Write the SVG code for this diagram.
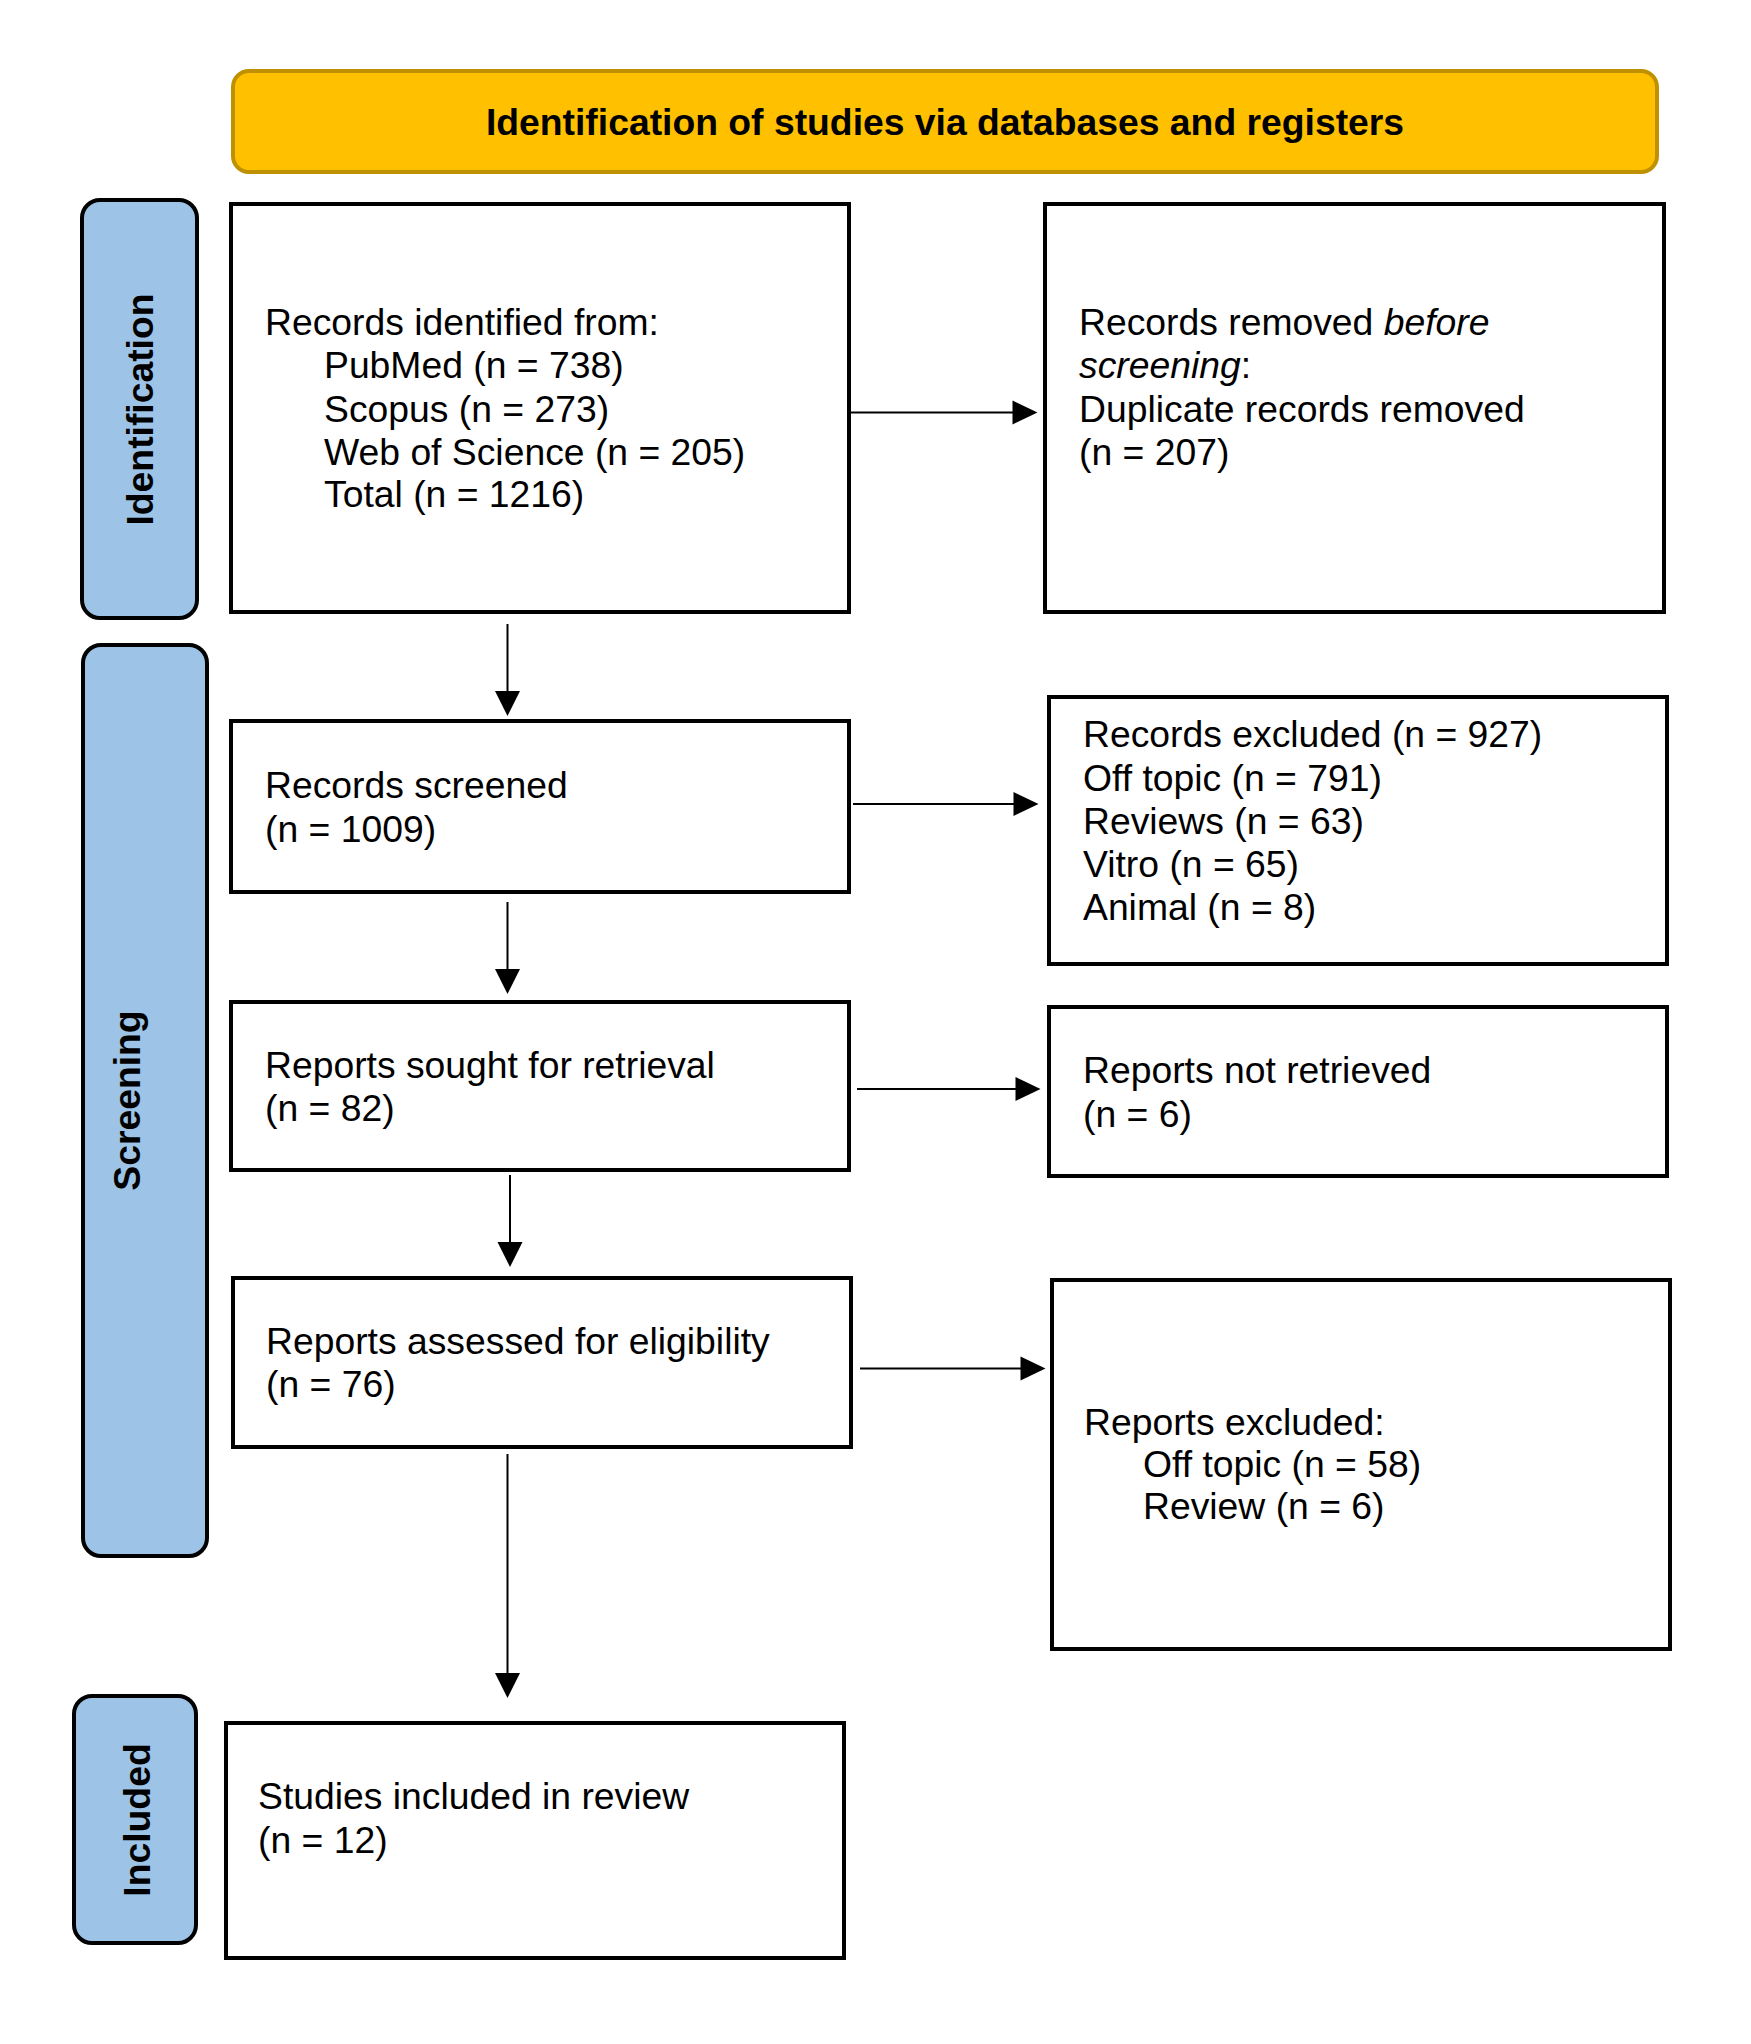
<svg xmlns="http://www.w3.org/2000/svg" width="1751" height="2044" viewBox="0 0 1751 2044">
<style>
.bg{fill:#ffffff}
.box{fill:#ffffff;stroke:#000000;stroke-width:4}
.side{fill:#9DC3E6;stroke:#000000;stroke-width:4}
.head{fill:#FFC000;stroke:#BF9000;stroke-width:4}
.t{font-family:"Liberation Sans",Arial,sans-serif;font-size:37.3px;fill:#000000}
.b{font-family:"Liberation Sans",Arial,sans-serif;font-size:37.3px;font-weight:bold;fill:#000000}
.ln{stroke:#000000;stroke-width:2;fill:none}
.ah{fill:#000000}
</style>
<rect class="bg" x="0" y="0" width="1751" height="2044"/>

<g id="header">
<rect class="head" x="233" y="71" width="1424" height="101" rx="16"/>
<text class="b" x="945" y="135" text-anchor="middle">Identification of studies via databases and registers</text>
</g>

<g id="side-identification">
<rect class="side" x="82" y="200" width="115" height="418" rx="18"/>
<text class="b" transform="translate(153,409.5) rotate(-90)" text-anchor="middle">Identification</text>
</g>
<g id="side-screening">
<rect class="side" x="83" y="645" width="124" height="911" rx="18"/>
<text class="b" transform="translate(140,1100.5) rotate(-90)" text-anchor="middle">Screening</text>
</g>
<g id="side-included">
<rect class="side" x="74" y="1696" width="122" height="247" rx="18"/>
<text class="b" transform="translate(150,1820) rotate(-90)" text-anchor="middle">Included</text>
</g>

<g id="records-identified">
<rect class="box" x="231" y="204" width="618" height="408"/>
<text class="t" x="265" y="335">Records identified from:</text>
<text class="t" x="324" y="378">PubMed (n = 738)</text>
<text class="t" x="324" y="421.5">Scopus (n = 273)</text>
<text class="t" x="324" y="464.5">Web of Science (n = 205)</text>
<text class="t" x="324" y="507">Total (n = 1216)</text>
</g>

<g id="records-removed">
<rect class="box" x="1045" y="204" width="619" height="408"/>
<text class="t" x="1079" y="335">Records removed <tspan font-style="italic">before</tspan></text>
<text class="t" x="1079" y="378"><tspan font-style="italic">screening</tspan>:</text>
<text class="t" x="1079" y="421.5">Duplicate records removed</text>
<text class="t" x="1079" y="464.5">(n = 207)</text>
</g>

<g id="records-screened">
<rect class="box" x="231" y="721" width="618" height="171"/>
<text class="t" x="265" y="798">Records screened</text>
<text class="t" x="265" y="842">(n = 1009)</text>
</g>

<g id="records-excluded">
<rect class="box" x="1049" y="697" width="618" height="267"/>
<text class="t" x="1083" y="747">Records excluded (n = 927)</text>
<text class="t" x="1083" y="790.5">Off topic (n = 791)</text>
<text class="t" x="1083" y="833.5">Reviews (n = 63)</text>
<text class="t" x="1083" y="877">Vitro (n = 65)</text>
<text class="t" x="1083" y="920">Animal (n = 8)</text>
</g>

<g id="reports-sought">
<rect class="box" x="231" y="1002" width="618" height="168"/>
<text class="t" x="265" y="1078">Reports sought for retrieval</text>
<text class="t" x="265" y="1121">(n = 82)</text>
</g>

<g id="reports-not-retrieved">
<rect class="box" x="1049" y="1007" width="618" height="169"/>
<text class="t" x="1083" y="1083">Reports not retrieved</text>
<text class="t" x="1083" y="1127">(n = 6)</text>
</g>

<g id="reports-assessed">
<rect class="box" x="233" y="1278" width="618" height="169"/>
<text class="t" x="266" y="1354">Reports assessed for eligibility</text>
<text class="t" x="266" y="1397">(n = 76)</text>
</g>

<g id="reports-excluded">
<rect class="box" x="1052" y="1280" width="618" height="369"/>
<text class="t" x="1084" y="1434.5">Reports excluded:</text>
<text class="t" x="1143" y="1477">Off topic (n = 58)</text>
<text class="t" x="1143" y="1519">Review (n = 6)</text>
</g>

<g id="studies-included">
<rect class="box" x="226" y="1723" width="618" height="235"/>
<text class="t" x="258" y="1809">Studies included in review</text>
<text class="t" x="258" y="1853">(n = 12)</text>
</g>

<g id="connectors">
<line class="ln" x1="507.5" y1="624" x2="507.5" y2="693"/>
<polygon class="ah" points="495,691 520,691 507.5,716"/>
<line class="ln" x1="507.5" y1="902" x2="507.5" y2="971"/>
<polygon class="ah" points="495,969 520,969 507.5,994"/>
<line class="ln" x1="510" y1="1175" x2="510" y2="1244"/>
<polygon class="ah" points="497.5,1242 522.5,1242 510,1267"/>
<line class="ln" x1="507.5" y1="1454" x2="507.5" y2="1675"/>
<polygon class="ah" points="495,1673 520,1673 507.5,1698"/>

<line class="ln" x1="851" y1="412.5" x2="1014" y2="412.5"/>
<polygon class="ah" points="1012.5,400.5 1012.5,424.5 1037.5,412.5"/>
<line class="ln" x1="853" y1="804" x2="1015" y2="804"/>
<polygon class="ah" points="1013.5,792 1013.5,816 1038.5,804"/>
<line class="ln" x1="857" y1="1089" x2="1017" y2="1089"/>
<polygon class="ah" points="1015.5,1077 1015.5,1101 1040.5,1089"/>
<line class="ln" x1="860" y1="1368.5" x2="1022" y2="1368.5"/>
<polygon class="ah" points="1020.5,1356.5 1020.5,1380.5 1045.5,1368.5"/>
</g>
</svg>
